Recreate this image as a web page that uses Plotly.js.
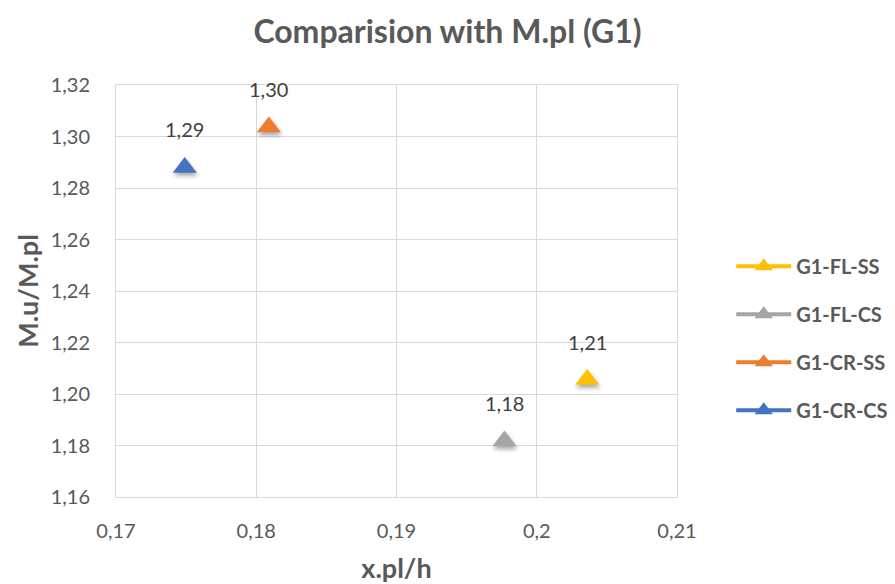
<!DOCTYPE html>
<html>
<head>
<meta charset="utf-8">
<script src="https://cdn.plot.ly/plotly-3.0.1.min.js"></script>
<style>
  html, body { margin: 0; padding: 0; background: #fff; }
  #chart { width: 895px; height: 584px; }
  /* soft drop shadow under the data markers */
  #chart .scatterlayer .points path { filter: drop-shadow(1px 3px 2px rgba(0,0,0,0.35)); }
</style>
</head>
<body>
<div id="chart"></div>
<script>
// Series names, one point per series
const seriesNames = ['G1-FL-SS', 'G1-FL-CS', 'G1-CR-SS', 'G1-CR-CS'];
const seriesColors = ['#FFC000', '#A5A5A5', '#ED7D31', '#4472C4'];
// x.pl/h values
const xplh = [0.2036, 0.1977, 0.1809, 0.1749];
// M.u/M.pl values
const muMpl = [1.2056, 1.1817, 1.3037, 1.2880];

// Axis ticks
const xTickVals = [0.17, 0.18, 0.19, 0.20, 0.21];
const xTickText = ['0,17', '0,18', '0,19', '0,2', '0,21'];

const textColor = '#595959';
const fontFamily = 'Lato, "Open Sans", sans-serif';

const traces = seriesNames.map((name, i) => ({
  type: 'scatter',
  mode: 'lines+markers',
  name: name,
  legendgroup: name,
  x: [xplh[i]],
  y: [muMpl[i]],
  marker: { symbol: 'triangle-up', size: 21, color: seriesColors[i] },
  line: { color: seriesColors[i], width: 4 },
  cliponaxis: false,
  hoverinfo: 'x+y+name'
}));

// value labels above each marker, formatted with a decimal comma
const labels = seriesNames.map((name, i) => ({
  xref: 'x', yref: 'y',
  x: xplh[i], y: muMpl[i],
  text: muMpl[i].toFixed(2).replace('.', ','),
  showarrow: false,
  xanchor: 'center', yanchor: 'middle',
  yshift: 38,
  font: { family: fontFamily, size: 20, color: '#404040' }
}));

const layout = {
  width: 895,
  height: 584,
  separators: ',.',
  paper_bgcolor: '#ffffff',
  plot_bgcolor: '#ffffff',
  margin: { l: 116, r: 218, t: 85, b: 87 },
  title: {
    text: '<b>Comparision with M.pl (G1)</b>',
    font: { family: fontFamily, size: 32, color: textColor },
    x: 0.5, xanchor: 'center',
    y: 0.945, yanchor: 'middle'
  },
  xaxis: {
    range: [0.17, 0.21],
    tickvals: xTickVals,
    ticktext: xTickText,
    showgrid: true,
    gridcolor: '#d9d9d9',
    gridwidth: 1,
    zeroline: false,
    showline: true,
    linecolor: '#d9d9d9',
    mirror: true,
    ticks: '',
    ticklabelstandoff: 16,
    tickfont: { family: fontFamily, size: 20, color: textColor },
    title: {
      text: '<b>x.pl/h</b>',
      font: { family: fontFamily, size: 27, color: textColor },
      standoff: 28
    }
  },
  yaxis: {
    range: [1.16, 1.32],
    dtick: 0.02,
    tick0: 1.16,
    tickformat: '.2f',
    showgrid: true,
    gridcolor: '#d9d9d9',
    gridwidth: 1,
    zeroline: false,
    showline: true,
    linecolor: '#d9d9d9',
    mirror: true,
    ticks: '',
    ticklabelstandoff: 21,
    tickfont: { family: fontFamily, size: 20, color: textColor },
    title: {
      text: '<b>M.u/M.pl</b>',
      font: { family: fontFamily, size: 27, color: textColor },
      standoff: 4
    }
  },
  annotations: labels,
  showlegend: true,
  legend: {
    xref: 'container', yref: 'container',
    x: 0.817, xanchor: 'left',
    y: 0.421, yanchor: 'middle',
    traceorder: 'grouped',
    tracegroupgap: 19,
    itemwidth: 55,
    font: { family: fontFamily, size: 20, color: textColor, weight: 'bold' },
    bgcolor: 'rgba(0,0,0,0)'
  }
};

Plotly.newPlot('chart', traces, layout, { displayModeBar: false, staticPlot: true });
</script>
</body>
</html>
